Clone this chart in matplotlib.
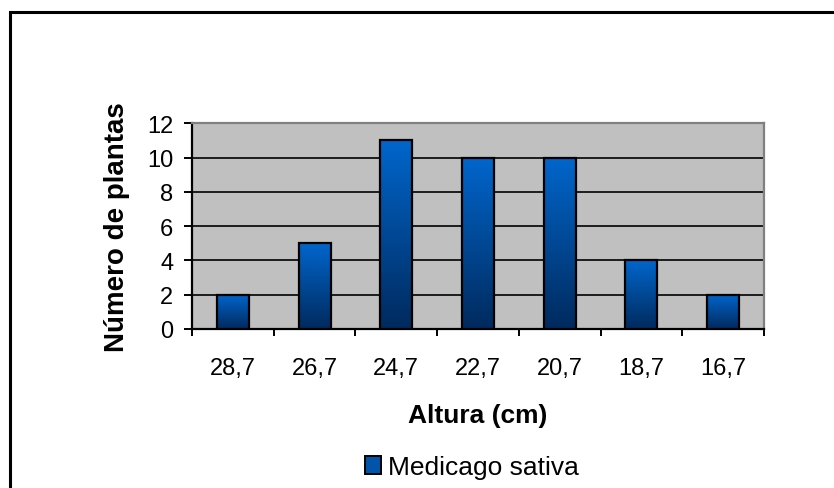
import numpy as np
import matplotlib
matplotlib.use("Agg")
import matplotlib.pyplot as plt
from matplotlib.patches import Rectangle, Patch
from matplotlib.colors import LinearSegmentedColormap

categories = ["28,7", "26,7", "24,7", "22,7", "20,7", "18,7", "16,7"]
values = [2, 5, 11, 10, 10, 4, 2]
series_name = "Medicago sativa"
y_label = "Número de plantas"
x_label = "Altura (cm)"

plt.rcParams['font.family'] = ['Liberation Sans', 'DejaVu Sans']

fig = plt.figure(figsize=(8.34, 4.89), dpi=100)
fig.patch.set_facecolor('white')

# outer frame (cut off at right and bottom)
frame = Rectangle((9.5 / 834, -0.2), 1.2, 1 - 12.5 / 489 + 0.2,
                  transform=fig.transFigure, fill=False, edgecolor='black',
                  linewidth=2.2, clip_on=False)
fig.add_artist(frame)

ax = fig.add_axes([192 / 834, 159 / 489, 572 / 834, 205.7 / 489])
ax.set_facecolor('#C0C0C0')

x = np.arange(len(categories))
width = 0.39
cmap = LinearSegmentedColormap.from_list('g', ['#002A5E', '#0066CC'])
grad = np.linspace(0, 1, 256).reshape(-1, 1)

for yv in [2, 4, 6, 8, 10]:
    ax.axhline(yv, color='black', linewidth=1.2, zorder=1)

bars = ax.bar(x, values, width=width, facecolor='none', edgecolor='black',
              linewidth=1.6, zorder=4)
for b in bars:
    x0, y0 = b.get_x(), b.get_y()
    w, h = b.get_width(), b.get_height()
    ax.imshow(grad, extent=(x0, x0 + w, y0, y0 + h), origin='lower',
              cmap=cmap, aspect='auto', zorder=3, interpolation='bilinear')
ax.set_xlim(-0.5, len(categories) - 0.5)
ax.set_ylim(0, 12)

ax.spines['left'].set_color('black')
ax.spines['left'].set_linewidth(1.6)
ax.spines['bottom'].set_color('black')
ax.spines['bottom'].set_linewidth(1.6)
ax.spines['top'].set_color('#808080')
ax.spines['top'].set_linewidth(1.6)
ax.spines['right'].set_color('#808080')
ax.spines['right'].set_linewidth(1.6)

ax.set_yticks(range(0, 13, 2))
ax.tick_params(axis='y', direction='out', length=6, width=1.4, pad=7.5,
               labelsize=17)
ax.set_xticks(np.arange(-0.5, len(categories), 1.0))
ax.set_xticklabels([])
ax.set_xticks(x, minor=True)
ax.set_xticklabels(categories, minor=True)
ax.tick_params(axis='x', which='major', direction='out', length=5, width=1.4)
ax.tick_params(axis='x', which='minor', length=0, pad=20, labelsize=17)

ax.set_ylabel(y_label, fontsize=20, fontweight='bold')
ax.yaxis.set_label_coords(-0.109, 0.5)
ax.set_xlabel(x_label, fontsize=19, fontweight='bold')
ax.xaxis.set_label_coords(0.5, -0.36)

handle = Patch(facecolor='#0055AA', edgecolor='black', linewidth=1.4)
fig.legend([handle], [series_name], loc='center',
           bbox_to_anchor=(0.566, 1 - 468 / 489), frameon=False,
           fontsize=19, handlelength=0.6, handleheight=0.65,
           handletextpad=0.3)

fig.savefig('out.png', dpi=100)
